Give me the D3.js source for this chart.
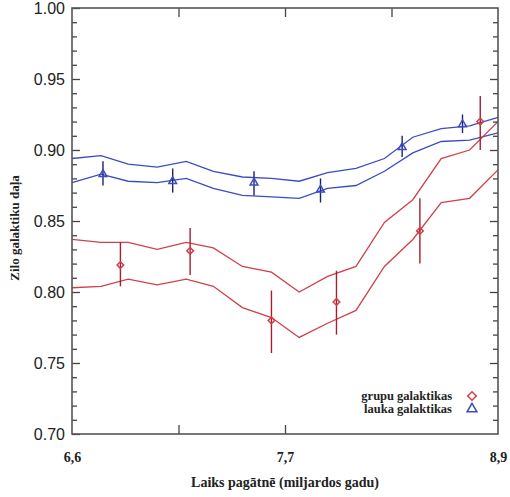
<!DOCTYPE html>
<html>
<head>
<meta charset="utf-8">
<script src="https://cdn.jsdelivr.net/npm/d3@7"></script>
<style>
  body { margin: 0; background: #fff; }
  svg { display: block; }
</style>
</head>
<body>
<svg id="chart"></svg>
<script>
// lookback time grid (Gyr) of the band vertices
const timeGrid = [6.60, 6.75, 6.89, 7.04, 7.19, 7.33, 7.48, 7.63, 7.78, 7.94, 8.10, 8.26, 8.42, 8.58, 8.74, 8.90];

// field galaxies (blue band)
const fieldUpper = [0.894, 0.896, 0.890, 0.888, 0.892, 0.885, 0.881, 0.880, 0.878, 0.884, 0.887, 0.894, 0.909, 0.915, 0.917, 0.923];
const fieldLower = [0.877, 0.883, 0.878, 0.877, 0.880, 0.873, 0.868, 0.867, 0.866, 0.873, 0.875, 0.885, 0.898, 0.906, 0.907, 0.912];

// group galaxies (red band)
const groupUpper = [0.837, 0.835, 0.835, 0.830, 0.835, 0.831, 0.818, 0.814, 0.800, 0.811, 0.818, 0.849, 0.865, 0.894, 0.900, 0.920];
const groupLower = [0.803, 0.804, 0.809, 0.805, 0.809, 0.804, 0.789, 0.782, 0.768, 0.778, 0.787, 0.818, 0.837, 0.863, 0.866, 0.886];

// measured points with error bars
const fieldTimes = [6.76, 7.12, 7.54, 7.90, 8.36, 8.70];
const fieldValues = [0.883, 0.878, 0.877, 0.872, 0.902, 0.918];
const fieldLow = [0.875, 0.870, 0.868, 0.863, 0.895, 0.912];
const fieldHigh = [0.892, 0.887, 0.885, 0.880, 0.910, 0.925];

const groupTimes = [6.85, 7.21, 7.63, 7.99, 8.46, 8.80];
const groupValues = [0.819, 0.829, 0.780, 0.793, 0.843, 0.920];
const groupLow = [0.804, 0.812, 0.757, 0.770, 0.820, 0.900];
const groupHigh = [0.835, 0.845, 0.801, 0.815, 0.866, 0.938];

// ticks
const xLabelTicks = [6.6, 7.7, 8.9];
const xBottomTicks = [7.15, 7.7];
const xTopTicks = [7.15, 7.7, 8.3];
const yMajorTicks = [0.70, 0.75, 0.80, 0.85, 0.90, 0.95, 1.00];
const yMinorTicks = d3.range(71, 100).filter(d => d % 5 !== 0).map(d => d / 100);

const legendLabels = ['grupu galaktikas', 'lauka galaktikas'];
const xTitle = 'Laiks pagātnē (miljardos gadu)';
const yTitle = 'Zilo galaktiku daļa';

const blue = '#3c4cc0', blueBar = '#1c2466';
const red = '#d0404c', redBar = '#a3202e';

let config = {
  width: 510, height: 497,
  margin: { top: 8, right: 12, bottom: 63, left: 72 }
};
let innerW = config.width - config.margin.left - config.margin.right;
let innerH = config.height - config.margin.top - config.margin.bottom;

let svg = d3.select('#chart')
  .attr('width', config.width)
  .attr('height', config.height);

let chart = svg.append('g')
  .attr('transform', `translate(${config.margin.left},${config.margin.top})`);

// axis is not linear in time: three labelled points equally spaced
let xScale = d3.scaleLinear()
  .domain([6.6, 7.7, 8.9])
  .range([0, innerW / 2, innerW]);

let yScale = d3.scaleLinear()
  .domain([0.70, 1.00])
  .range([innerH, 0]);

let line = d3.line()
  .x(d => xScale(d[0]))
  .y(d => yScale(d[1]));

function drawBand(values, color) {
  chart.append('path')
    .datum(timeGrid.map((t, i) => [t, values[i]]))
    .attr('d', line)
    .attr('fill', 'none')
    .attr('stroke', color)
    .attr('stroke-width', 1.3);
}

drawBand(fieldUpper, blue);
drawBand(fieldLower, blue);
drawBand(groupUpper, red);
drawBand(groupLower, red);

// diamond = square turned by 45 degrees
function markerPath(kind, size) {
  return kind === 'diamond'
    ? d3.symbol().type(d3.symbolSquare).size(size)()
    : d3.symbol().type(d3.symbolTriangle).size(size)();
}
function markerRotate(kind) {
  return kind === 'diamond' ? ' rotate(45)' : '';
}

function drawPoints(times, values, low, high, color, barColor, kind) {
  let pts = times.map((t, i) => ({ t: t, v: values[i], lo: low[i], hi: high[i] }));
  chart.selectAll(null)
    .data(pts)
    .join('line')
      .attr('x1', d => xScale(d.t))
      .attr('x2', d => xScale(d.t))
      .attr('y1', d => yScale(d.lo))
      .attr('y2', d => yScale(d.hi))
      .attr('stroke', barColor)
      .attr('stroke-width', 1.4);
  chart.selectAll(null)
    .data(pts)
    .join('path')
      .attr('transform', d => `translate(${xScale(d.t)},${yScale(d.v)})` + markerRotate(kind))
      .attr('d', markerPath(kind, kind === 'diamond' ? 22 : 26))
      .attr('fill', 'none')
      .attr('stroke', color)
      .attr('stroke-width', 1.5);
}

drawPoints(fieldTimes, fieldValues, fieldLow, fieldHigh, blue, blueBar, 'triangle');
drawPoints(groupTimes, groupValues, groupLow, groupHigh, red, redBar, 'diamond');

// axes with inward ticks
let tickColor = '#444';

let yMajor = chart.append('g')
  .call(d3.axisLeft(yScale).tickValues(yMajorTicks).tickSize(-8).tickPadding(7).tickFormat(d3.format('.2f')));
yMajor.selectAll('text')
  .attr('font-family', '"Liberation Sans", Arial, sans-serif')
  .attr('font-size', 16)
  .attr('fill', '#222');

chart.append('g')
  .call(d3.axisLeft(yScale).tickValues(yMinorTicks).tickSize(-5).tickFormat(''));

chart.append('g')
  .attr('transform', `translate(${innerW},0)`)
  .call(d3.axisRight(yScale).tickValues(yMajorTicks.filter(d => d > 0.7 && d < 1)).tickSize(-8).tickFormat(''));

chart.append('g')
  .attr('transform', `translate(${innerW},0)`)
  .call(d3.axisRight(yScale).tickValues(yMinorTicks).tickSize(-5).tickFormat(''));

let xLabels = chart.append('g')
  .attr('transform', `translate(0,${innerH})`)
  .call(d3.axisBottom(xScale).tickValues(xLabelTicks).tickSize(0).tickFormat(d => d3.format('.1f')(d).replace('.', ',')));
xLabels.selectAll('text')
  .attr('dy', null)
  .attr('y', 28)
  .attr('font-family', '"Liberation Serif", "Times New Roman", serif')
  .attr('font-weight', 'bold')
  .attr('font-size', 14)
  .attr('fill', '#222');

chart.append('g')
  .attr('transform', `translate(0,${innerH})`)
  .call(d3.axisBottom(xScale).tickValues(xBottomTicks).tickSize(-9).tickFormat(''));

chart.append('g')
  .call(d3.axisTop(xScale).tickValues(xTopTicks).tickSize(-9).tickFormat(''));

chart.selectAll('.domain').remove();
chart.selectAll('.tick line')
  .attr('stroke', tickColor)
  .attr('stroke-width', 1.3);

// frame
chart.append('rect')
  .attr('width', innerW)
  .attr('height', innerH)
  .attr('fill', 'none')
  .attr('stroke', '#555')
  .attr('stroke-width', 1.6);

// axis titles
svg.append('text')
  .attr('x', config.margin.left + innerW / 2)
  .attr('y', 487)
  .attr('text-anchor', 'middle')
  .attr('font-family', '"Liberation Serif", "Times New Roman", serif')
  .attr('font-weight', 'bold')
  .attr('font-size', 14)
  .attr('fill', '#222')
  .text(xTitle);

svg.append('text')
  .attr('transform', 'translate(19,228) rotate(-90)')
  .attr('text-anchor', 'middle')
  .attr('font-family', '"Liberation Serif", "Times New Roman", serif')
  .attr('font-weight', 'bold')
  .attr('font-size', 13)
  .attr('fill', '#222')
  .text(yTitle);

// legend
let legend = chart.append('g')
  .attr('transform', `translate(${452 - config.margin.left},${396 - config.margin.top})`);
let legendKinds = ['diamond', 'triangle'];
let legendColors = [red, blue];
legendLabels.forEach((label, i) => {
  legend.append('text')
    .attr('x', 0)
    .attr('y', i * 13 + 4)
    .attr('text-anchor', 'end')
    .attr('font-family', '"Liberation Serif", "Times New Roman", serif')
    .attr('font-weight', 'bold')
    .attr('font-size', 12.5)
    .attr('fill', '#222')
    .text(label);
  legend.append('path')
    .attr('transform', `translate(20,${i * 13})` + markerRotate(legendKinds[i]))
    .attr('d', markerPath(legendKinds[i], legendKinds[i] === 'diamond' ? 36 : 42))
    .attr('fill', 'none')
    .attr('stroke', legendColors[i])
    .attr('stroke-width', 1.5);
});
</script>
</body>
</html>
